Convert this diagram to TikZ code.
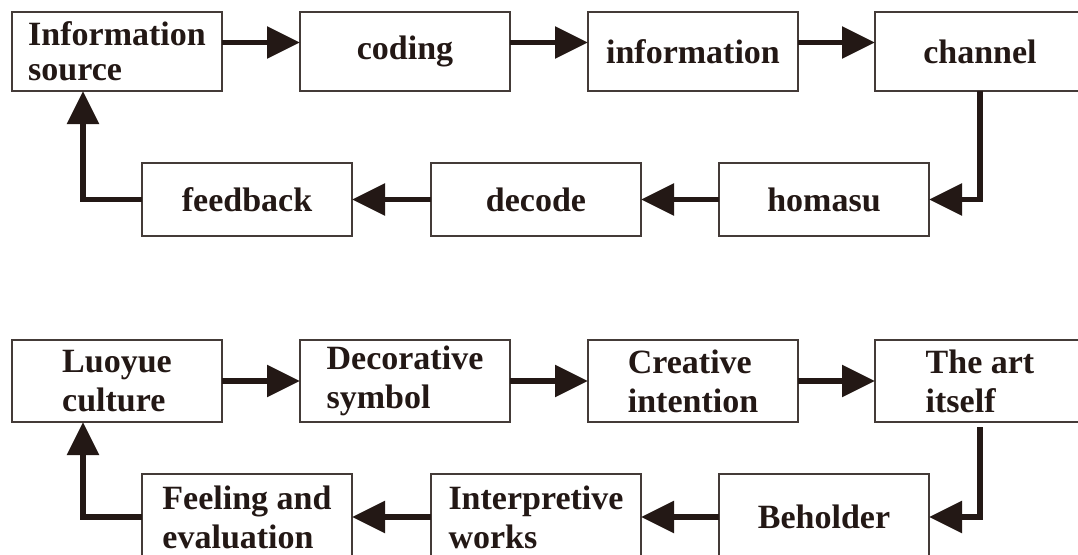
\documentclass[tikz,border=0pt]{standalone}
\usepackage{fontspec}
\setmainfont{Liberation Serif}
\usepackage{tikz}
\usetikzlibrary{positioning, arrows.meta}
\definecolor{ink}{RGB}{35,24,21}

\begin{document}
\begin{tikzpicture}[
  x=1pt, y=-1pt,
  >={Triangle[length=33pt, width=31pt]},
  box/.style={draw=ink!85, line width=1.5pt, minimum width=210pt, minimum height=79pt, inner sep=0pt, outer sep=0pt, align=left, text=ink, font=\fontsize{34}{35}\selectfont\bfseries},
  lowB/.style={box, minimum height=73pt},
  tallB/.style={box, minimum height=82pt, font=\fontsize{34}{39}\selectfont\bfseries},
  arr/.style={->, line width=5.5pt, draw=ink}
]
\path[use as bounding box, fill=white] (0,0) rectangle (1078,554);

% communication model
\node[box, anchor=north west] (src) at (12,12) {Information\\source};
\node[box, right=78pt of src] (cod) {coding};
\node[box, right=78pt of cod] (inf) {information};
\node[box, right=77pt of inf] (chan) {channel};
\node[lowB, anchor=north west] (fb) at (142,163) {feedback};
\node[lowB, right=79pt of fb] (dec) {decode};
\node[lowB, right=78pt of dec] (hom) {homasu};

\draw[arr] ([yshift=9pt]src.east) -- ([yshift=9pt]cod.west);
\draw[arr] ([yshift=9pt]cod.east) -- ([yshift=9pt]inf.west);
\draw[arr] ([yshift=9pt]inf.east) -- ([yshift=9pt]chan.west);
\draw[arr] (chan.south) |- (hom.east);
\draw[arr] (hom) -- (dec);
\draw[arr] (dec) -- (fb);
\draw[arr] (fb.west) -| ([xshift=-34pt]src.south);

% art model
\node[tallB, anchor=north west] (luo) at (12,340) {Luoyue\\culture};
\node[tallB, right=78pt of luo] (sym) {Decorative\\symbol};
\node[tallB, right=78pt of sym] (intn) {Creative\\intention};
\node[tallB, right=77pt of intn] (art) {The art\\itself};
\node[tallB, minimum height=86pt, anchor=north west] (feel) at (142,474) {Feeling and\\evaluation};
\node[tallB, minimum height=86pt, right=79pt of feel] (work) {Interpretive\\works};
\node[tallB, minimum height=86pt, right=78pt of work] (beh) {Beholder};

\draw[arr] (luo) -- (sym);
\draw[arr] (sym) -- (intn);
\draw[arr] (intn) -- (art);
\draw[arr, shorten <=5pt] (art.south) |- (beh.east);
\draw[arr] (beh) -- (work);
\draw[arr] (work) -- (feel);
\draw[arr] (feel.west) -| ([xshift=-34pt]luo.south);
\end{tikzpicture}
\end{document}
